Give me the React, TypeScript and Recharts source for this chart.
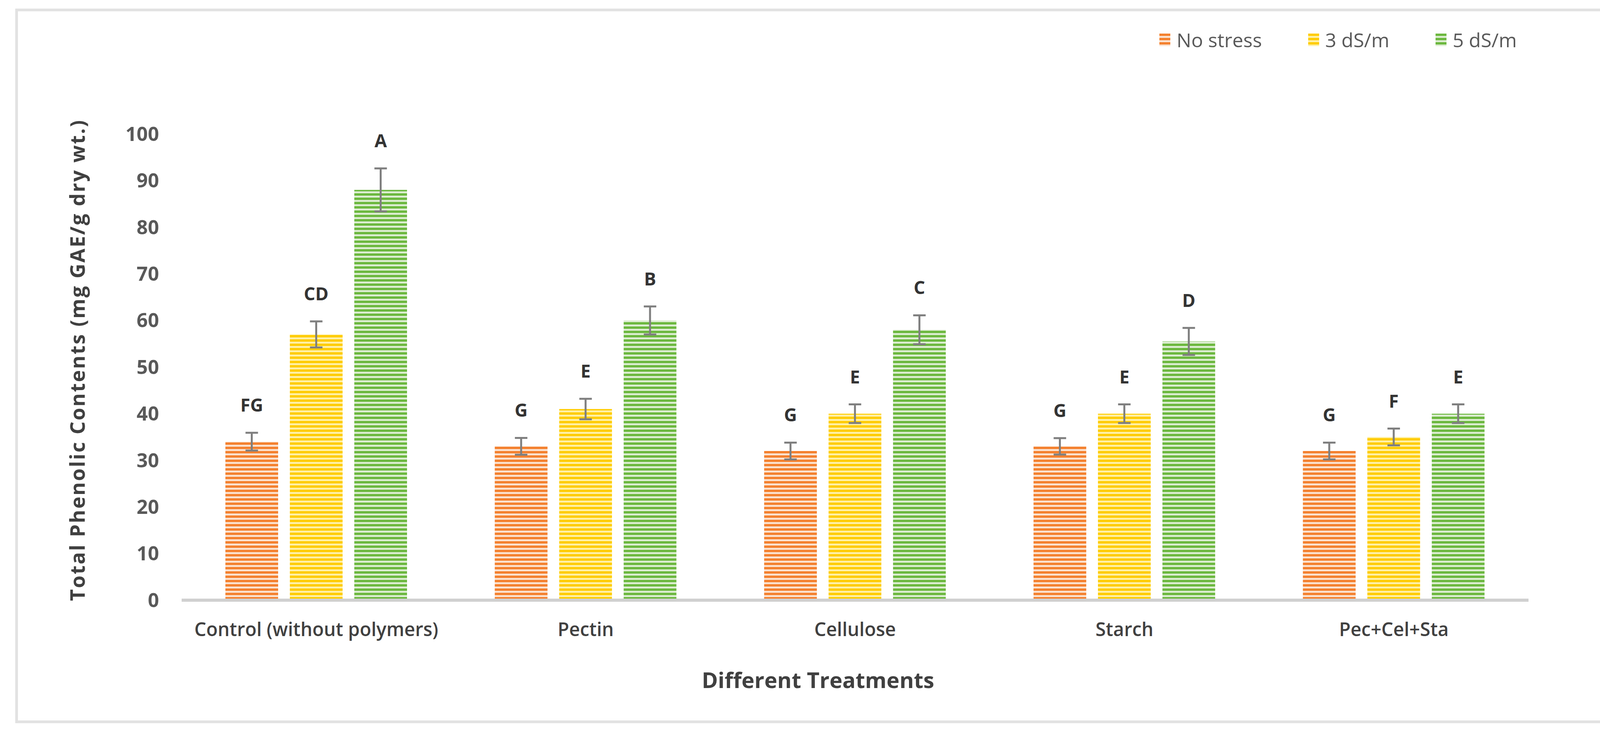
import React from "react";
import { BarChart, Bar, XAxis, YAxis, ErrorBar, LabelList, Label, Legend } from "recharts";

const categories = ["Control (without polymers)", "Pectin", "Cellulose", "Starch", "Pec+Cel+Sta"];
const noStress = [34, 33, 32, 33, 32];
const ds3 = [57, 41, 40, 40, 35];
const ds5 = [88, 60, 58, 55.5, 40];
const errNoStress = [1.9, 1.8, 1.8, 1.75, 1.8];
const errDs3 = [2.8, 2.2, 2.0, 2.0, 1.8];
const errDs5 = [4.6, 3.0, 3.1, 2.9, 2.0];
const lettersNoStress = ["FG", "G", "G", "G", "G"];
const lettersDs3 = ["CD", "E", "E", "E", "F"];
const lettersDs5 = ["A", "B", "C", "D", "E"];
const yTicks = [0, 10, 20, 30, 40, 50, 60, 70, 80, 90, 100];

const seriesNames = ["No stress", "3 dS/m", "5 dS/m"];

const data = categories.map((name, i) => ({
  name,
  noStress: noStress[i],
  ds3: ds3[i],
  ds5: ds5[i],
  errNoStress: errNoStress[i],
  errDs3: errDs3[i],
  errDs5: errDs5[i],
}));

const FONT = "'Open Sans', 'DejaVu Sans', sans-serif";
const W = 4140;
const H = 1872;

const colors = [
  { id: "patOrange", main: "#f4812f", pale: "#fbe2cf" },
  { id: "patYellow", main: "#ffcc00", pale: "#fff0a6" },
  { id: "patGreen", main: "#6cb83f", pale: "#dcedd1" },
];

function Patterns() {
  return (
    <svg width={0} height={0} style={{ position: "absolute" }}>
      <defs>
        {colors.map((c) => (
          <pattern key={c.id} id={c.id} width={10} height={11} patternUnits="userSpaceOnUse">
            <rect width={10} height={11} fill={c.pale} />
            <rect width={10} height={6} fill={c.main} />
          </pattern>
        ))}
      </defs>
    </svg>
  );
}

// letter above the error bar, offset from the top of the whisker
function makeLetter(letters: string[], errs: number[]) {
  return (props: any) => {
    const vb = props.viewBox || props;
    const { x, y, width, height } = vb;
    const value = Number(props.value);
    const idx = props.index;
    if (!value) return null;
    const pxPerUnit = height / value;
    const whiskerTop = y - errs[idx] * pxPerUnit;
    return (
      <text
        x={x + width / 2}
        y={whiskerTop - 72}
        textAnchor="middle"
        dominantBaseline="central"
        fontFamily={FONT}
        fontWeight={700}
        fontSize={46}
        fill="#333333"
      >
        {letters[idx]}
      </text>
    );
  };
}

function LegendContent() {
  return (
    <div style={{ display: "flex", alignItems: "center", fontFamily: FONT, fontSize: 50, color: "#595959" }}>
      {seriesNames.map((n, i) => (
        <div key={n} style={{ display: "flex", alignItems: "center", marginRight: i < 2 ? 118 : 0 }}>
          <svg width={28} height={32} style={{ marginRight: 16 }}>
            <rect width={28} height={32} fill={`url(#${colors[i].id})`} />
          </svg>
          <span>{n}</span>
        </div>
      ))}
    </div>
  );
}

export default function App() {
  return (
    <div style={{ position: "absolute", left: 0, top: 0, width: W, height: H, background: "#fff" }}>
      <Patterns />
      <div
        style={{
          position: "absolute",
          left: 39,
          top: 22,
          width: 4072 - 14,
          height: 1830 - 14,
          border: "7px solid #e2e2e2",
        }}
      />
      <BarChart
        width={W}
        height={H}
        data={data}
        margin={{ top: 343, right: 227, bottom: 0, left: 0 }}
        barSize={135}
        barGap={30}
      >
        <XAxis
          dataKey="name"
          height={335}
          interval={0}
          axisLine={{ stroke: "#d0d0d0", strokeWidth: 8 }}
          tickLine={false}
          tickSize={0}
          tickMargin={58}
          tick={{ fontSize: 48, fontWeight: 600, fill: "#404040", fontFamily: FONT }}
        >
          <Label
            content={(p: any) => {
              const vb = p.viewBox;
              return (
                <text
                  x={vb.x + vb.width / 2 - 95}
                  y={vb.y + 203}
                  textAnchor="middle"
                  dominantBaseline="central"
                  fontFamily={FONT}
                  fontWeight={700}
                  fontSize={56}
                  fill="#404040"
                >
                  Different Treatments
                </text>
              );
            }}
          />
        </XAxis>
        <YAxis
          width={465}
          domain={[0, 100]}
          ticks={yTicks}
          interval={0}
          axisLine={false}
          tickLine={false}
          tickSize={0}
          tickMargin={58}
          tick={{ fontSize: 50, fontWeight: 700, fill: "#595959", fontFamily: FONT }}
        >
          <Label
            content={(p: any) => {
              const vb = p.viewBox;
              const cx = 196;
              const cy = vb.y + vb.height / 2 - 18;
              return (
                <text
                  x={cx}
                  y={cy}
                  transform={`rotate(-90, ${cx}, ${cy})`}
                  textAnchor="middle"
                  dominantBaseline="central"
                  fontFamily={FONT}
                  fontWeight={700}
                  fontSize={52}
                  letterSpacing={3}
                  fill="#404040"
                >
                  Total Phenolic Contents (mg GAE/g dry wt.)
                </text>
              );
            }}
          />
        </YAxis>
        <Legend
          verticalAlign="middle"
          align="center"
          layout="horizontal"
          content={<LegendContent />}
          wrapperStyle={{ top: 68, left: 2968, width: 1100, height: 44 }}
        />
        <Bar dataKey="noStress" name={seriesNames[0]} fill="url(#patOrange)" isAnimationActive={false}>
          <ErrorBar dataKey="errNoStress" width={16} stroke="#7f7f7f" strokeWidth={5} isAnimationActive={false} />
          <LabelList dataKey="noStress" content={makeLetter(lettersNoStress, errNoStress)} />
        </Bar>
        <Bar dataKey="ds3" name={seriesNames[1]} fill="url(#patYellow)" isAnimationActive={false}>
          <ErrorBar dataKey="errDs3" width={16} stroke="#7f7f7f" strokeWidth={5} isAnimationActive={false} />
          <LabelList dataKey="ds3" content={makeLetter(lettersDs3, errDs3)} />
        </Bar>
        <Bar dataKey="ds5" name={seriesNames[2]} fill="url(#patGreen)" isAnimationActive={false}>
          <ErrorBar dataKey="errDs5" width={16} stroke="#7f7f7f" strokeWidth={5} isAnimationActive={false} />
          <LabelList dataKey="ds5" content={makeLetter(lettersDs5, errDs5)} />
        </Bar>
      </BarChart>
    </div>
  );
}
